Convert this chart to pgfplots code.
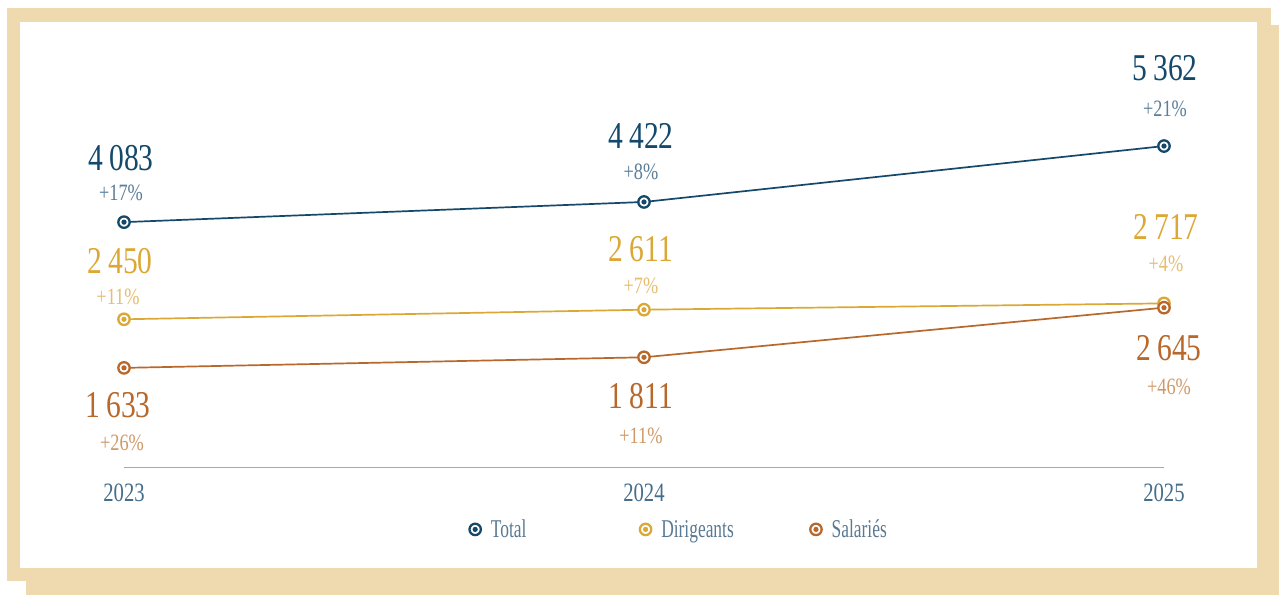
\documentclass[border=0pt]{standalone}
\usepackage{fontspec}
\setmainfont{Liberation Serif}[FakeStretch=0.78]
\newfontfamily\legfont{Liberation Serif}[FakeStretch=0.68]
\usepackage{pgfplots}
\pgfplotsset{compat=1.18}
\definecolor{beige}{HTML}{EFDAB0}
\definecolor{navy}{HTML}{14496B}
\definecolor{navyl}{HTML}{5B7E99}
\definecolor{gold}{HTML}{DCA835}
\definecolor{goldl}{HTML}{E5BE70}
\definecolor{rust}{HTML}{B8682B}
\definecolor{rustl}{HTML}{D09A68}
\definecolor{tickc}{HTML}{456E8C}
\definecolor{legc}{HTML}{5A7A93}
\definecolor{axc}{HTML}{A7ABAE}
\pgfdeclareplotmark{ringdot}{%
  \begin{pgfscope}
  \pgfsetlinewidth{2.3bp}%
  \pgfsetfillcolor{white}%
  \pgfpathcircle{\pgfpointorigin}{\pgfplotmarksize}%
  \pgfusepathqfillstroke
  \end{pgfscope}
  \pgfpathcircle{\pgfpointorigin}{0.46\pgfplotmarksize}%
  \pgfusepathqfill
}
\newcommand{\numf}{\fontsize{38}{40}\selectfont}
\newcommand{\pctf}{\fontsize{23.5}{25}\selectfont}
\begin{document}
\begin{tikzpicture}
\path[use as bounding box] (0bp,0bp) rectangle (1279bp,595bp);
\fill[beige] (26bp,0bp) rectangle (1279bp,570bp);
\fill[beige] (7bp,14bp) rectangle (1271bp,587bp);
\fill[white] (20bp,27bp) rectangle (1257bp,573bp);
\begin{axis}[
  at={(124bp,127.6bp)}, anchor=south west,
  scale only axis, width=1040bp, height=359.3bp,
  xmin=2023, xmax=2025, ymin=-40, ymax=6000,
  clip=false,
  axis x line*=bottom, hide y axis,
  x axis line style={axc, line width=1bp, -},
  xtick={2023,2024,2025}, xticklabels={2023,2024,2025},
  major tick length=0pt,
  /pgf/number format/assume math mode=true,
  xticklabel style={font=\fontsize{26.6}{28}\selectfont, text=tickc, inner sep=0pt, anchor=north, yshift=-16bp},
  mark size=5.7bp,
  legend columns=3,
  legend style={draw=none, fill=none, inner sep=0pt, outer sep=0pt,
    anchor=west, at={(rel axis cs:0.3322,-0.1726)},
    nodes={inner sep=0pt, font=\legfont\fontsize{25.7}{28}\selectfont, text=legc},
    /tikz/every odd column/.append style={column sep=10bp},
    /tikz/every even column/.append style={column sep=0bp}},
  legend image code/.code={\draw[#1] plot coordinates {(0bp,0bp)};},
]
\addplot[navy, line width=1.7bp, mark=ringdot, forget plot] coordinates {(2023,4083) (2024,4422) (2025,5362)};
\addplot[gold, line width=1.7bp, mark=ringdot, forget plot] coordinates {(2023,2450) (2024,2611) (2025,2717)};
\addplot[rust, line width=1.7bp, mark=ringdot, forget plot] coordinates {(2023,1633) (2024,1811) (2025,2645)};
\addlegendimage{navy, only marks, mark=ringdot}
\addlegendentry{\makebox[149bp][l]{Total}}
\addlegendimage{gold, only marks, mark=ringdot}
\addlegendentry{\makebox[149bp][l]{Dirigeants}}
\addlegendimage{rust, only marks, mark=ringdot}
\addlegendentry{\makebox[149bp][l]{Salariés}}
% Total labels
\node[text=navy, font=\numf, inner sep=0pt] at (axis cs:2023,4083) [xshift=-3bp, yshift=64bp] {4\,083};
\node[text=navyl, font=\pctf, inner sep=0pt] at (axis cs:2023,4083) [xshift=-3bp, yshift=29bp] {+17\%};
\node[text=navy, font=\numf, inner sep=0pt] at (axis cs:2024,4422) [xshift=-3bp, yshift=66bp] {4\,422};
\node[text=navyl, font=\pctf, inner sep=0pt] at (axis cs:2024,4422) [xshift=-3bp, yshift=30bp] {+8\%};
\node[text=navy, font=\numf, inner sep=0pt] at (axis cs:2025,5362) [xshift=1bp, yshift=78bp] {5\,362};
\node[text=navyl, font=\pctf, inner sep=0pt] at (axis cs:2025,5362) [xshift=1bp, yshift=37bp] {+21\%};
% Dirigeants labels
\node[text=gold, font=\numf, inner sep=0pt] at (axis cs:2023,2450) [xshift=-4bp, yshift=58bp] {2\,450};
\node[text=goldl, font=\pctf, inner sep=0pt] at (axis cs:2023,2450) [xshift=-6bp, yshift=22bp] {+11\%};
\node[text=gold, font=\numf, inner sep=0pt] at (axis cs:2024,2611) [xshift=-3bp, yshift=61bp] {2\,611};
\node[text=goldl, font=\pctf, inner sep=0pt] at (axis cs:2024,2611) [xshift=-3bp, yshift=24bp] {+7\%};
\node[text=gold, font=\numf, inner sep=0pt] at (axis cs:2025,2717) [xshift=2bp, yshift=76bp] {2\,717};
\node[text=goldl, font=\pctf, inner sep=0pt] at (axis cs:2025,2717) [xshift=2bp, yshift=40bp] {+4\%};
% Salariés labels
\node[text=rust, font=\numf, inner sep=0pt] at (axis cs:2023,1633) [xshift=-6bp, yshift=-37bp] {1\,633};
\node[text=rustl, font=\pctf, inner sep=0pt] at (axis cs:2023,1633) [xshift=-2bp, yshift=-75bp] {+26\%};
\node[text=rust, font=\numf, inner sep=0pt] at (axis cs:2024,1811) [xshift=-3bp, yshift=-39bp] {1\,811};
\node[text=rustl, font=\pctf, inner sep=0pt] at (axis cs:2024,1811) [xshift=-3bp, yshift=-79bp] {+11\%};
\node[text=rust, font=\numf, inner sep=0pt] at (axis cs:2025,2645) [xshift=5bp, yshift=-40bp] {2\,645};
\node[text=rustl, font=\pctf, inner sep=0pt] at (axis cs:2025,2645) [xshift=5bp, yshift=-79bp] {+46\%};
\end{axis}
\end{tikzpicture}
\end{document}
